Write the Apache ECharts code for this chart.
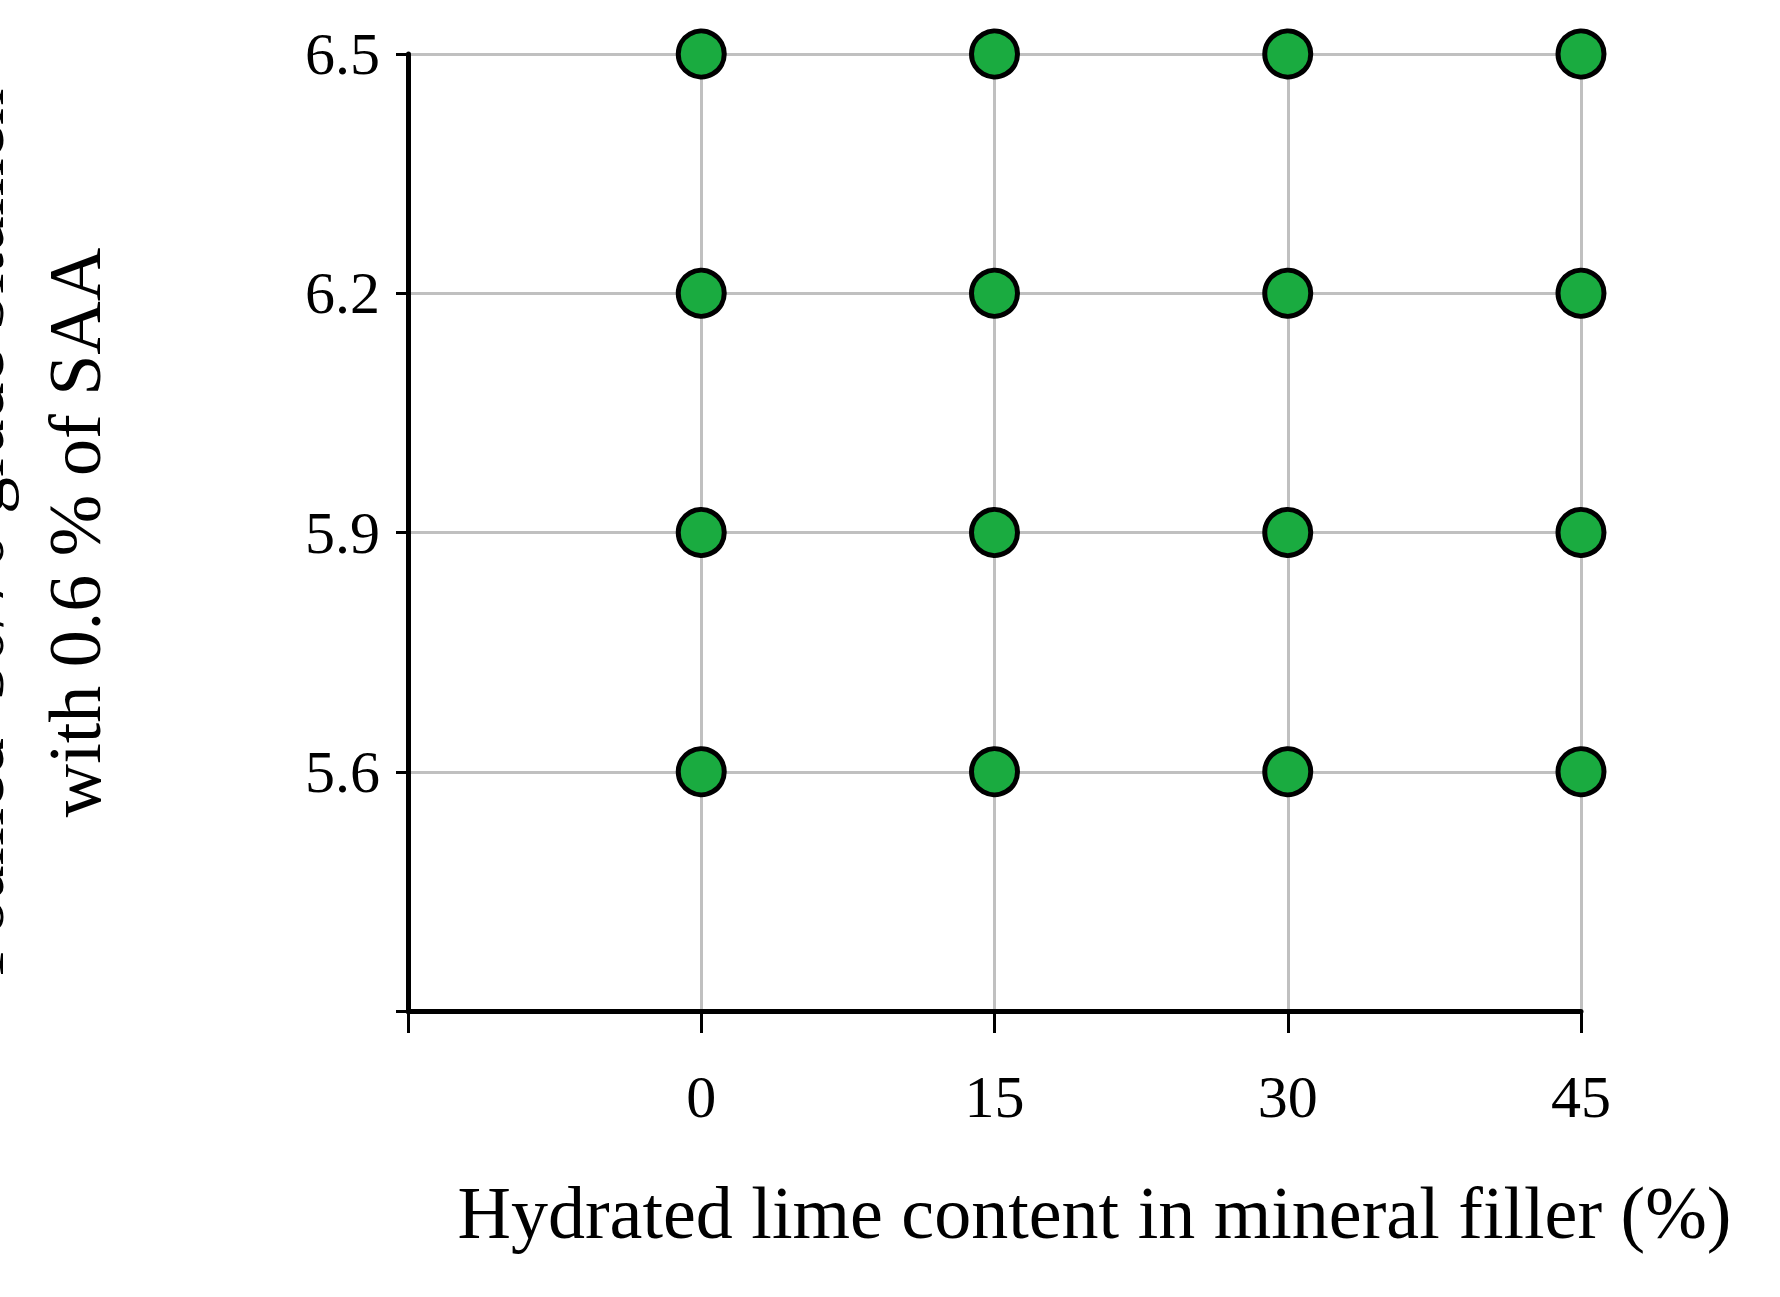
<!DOCTYPE html>
<html><head><meta charset="utf-8">
<script src="https://cdn.jsdelivr.net/npm/echarts@6/dist/echarts.min.js"></script>
<style>html,body{margin:0;background:#fff}#vis{width:1780px;height:1297px}</style>
</head><body><div id="vis"></div>
<script>
const limeContent = [0, 15, 30, 45];
const bitumenContent = [5.6, 5.9, 6.2, 6.5];
const xTickLabels = ['', '0', '15', '30', '45'];
const yTickLabels = ['', '5.6', '5.9', '6.2', '6.5'];

const points = [];
limeContent.forEach(x => bitumenContent.forEach(y => points.push([x, y])));

const font = '"Liberation Serif", "DejaVu Serif", serif';
const chart = echarts.init(document.getElementById('vis'), null, {renderer: 'svg'});
chart.setOption({
  animation: false,
  grid: {left: 408, right: 199, top: 54, bottom: 286, outerBoundsMode: 'none', containLabel: false},
  xAxis: {
    type: 'value', min: -15, max: 45, interval: 15,
    axisLine: {lineStyle: {color: '#000', width: 5}},
    axisTick: {length: 22, lineStyle: {color: '#000', width: 3}},
    axisLabel: {margin: 56, color: '#000', fontSize: 60, fontFamily: font,
      formatter: v => xTickLabels[Math.round((v + 15) / 15)]},
    splitLine: {show: true, lineStyle: {color: '#c0c0c0', width: 3}},
    name: 'Hydrated lime content in mineral filler (%)',
    nameLocation: 'middle', nameGap: 165,
    nameTextStyle: {color: '#000', fontSize: 74, fontFamily: font, padding: [0, 0, 0, 200]}
  },
  yAxis: {
    type: 'value', min: 5.3, max: 6.5, interval: 0.3,
    axisLine: {onZero: false, lineStyle: {color: '#000', width: 5}},
    axisTick: {length: 12, lineStyle: {color: '#000', width: 3}},
    axisLabel: {margin: 28, color: '#000', fontSize: 60, fontFamily: font,
      formatter: v => yTickLabels[Math.round((v - 5.3) / 0.3)]},
    splitLine: {show: true, lineStyle: {color: '#c0c0c0', width: 3}},
    name: 'Foamed  50/70 grade bitumen\nwith 0.6 % of SAA',
    nameLocation: 'middle', nameGap: 285,
    nameTextStyle: {color: '#000', fontSize: 74, fontFamily: font, lineHeight: 97}
  },
  series: [{
    type: 'scatter', data: points, symbolSize: 46,
    itemStyle: {color: '#1aab40', borderColor: '#000', borderWidth: 5, opacity: 1}
  }]
});
</script></body></html>
